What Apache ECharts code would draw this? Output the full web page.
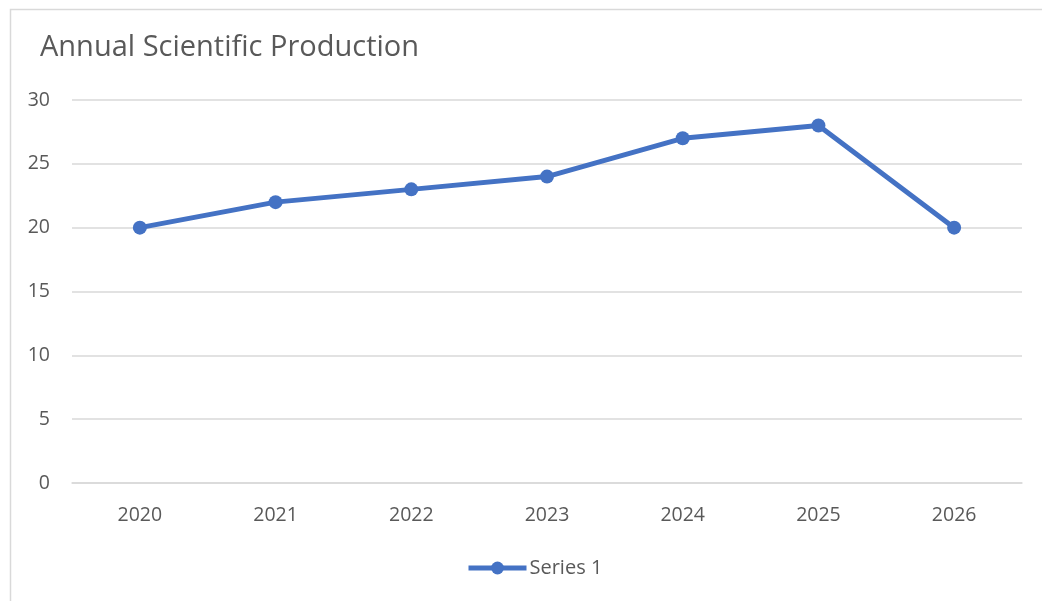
<!DOCTYPE html>
<html><head><meta charset="utf-8">
<script src="https://cdn.jsdelivr.net/npm/echarts@6/dist/echarts.min.js"></script>
<style>html,body{margin:0;padding:0;background:#fff}#c{width:1042px;height:601px}</style>
</head><body><div id="c"></div>
<script>
const categories = ['2020','2021','2022','2023','2024','2025','2026'];
const seriesName = 'Series 1';
const values = [20, 22, 23, 24, 27, 28, 20];
const chartTitle = 'Annual Scientific Production';
const FONT = '"Open Sans", sans-serif';
const chart = echarts.init(document.getElementById('c'));
chart.setOption({
  animation: false,
  backgroundColor: '#fff',
  graphic: [{type:'rect', left: 8, top: 7, shape:{width: 1100, height: 700}, style:{fill:'none', stroke:'#d9d9d9', lineWidth: 1.5}, silent:true}],
  title: {text: chartTitle, left: 35, top: 28, textStyle:{fontFamily: FONT, fontSize: 29, fontWeight: 'normal', color:'#595959'}},
  grid: {left: 72, right: 20, top: 100, bottom: 118},
  legend: {data:[seriesName], bottom: 18, left: 461, itemWidth: 58, itemHeight: 16, itemGap: 4,
    lineStyle:{width: 5},
    textStyle:{fontFamily: FONT, fontSize: 20, color:'#595959', padding:[0,0,0,-2]}},
  xAxis: {type:'category', data: categories, boundaryGap: true,
    axisLine:{lineStyle:{color:'#d9d9d9', width:1.5}}, axisTick:{show:false},
    axisLabel:{fontFamily: FONT, fontSize: 19.5, color:'#595959', margin: 22}},
  yAxis: {type:'value', min:0, max:30, interval:5,
    axisLine:{show:false}, axisTick:{show:false},
    splitLine:{lineStyle:{color:'#d9d9d9', width:1.5}},
    axisLabel:{fontFamily: FONT, fontSize: 19.5, color:'#595959', margin: 22}},
  series: [{name: seriesName, type:'line', data: values, symbol:'circle', symbolSize: 14,
    lineStyle:{color:'#4472C4', width: 5}, itemStyle:{color:'#4472C4'}}]
});
</script></body></html>
